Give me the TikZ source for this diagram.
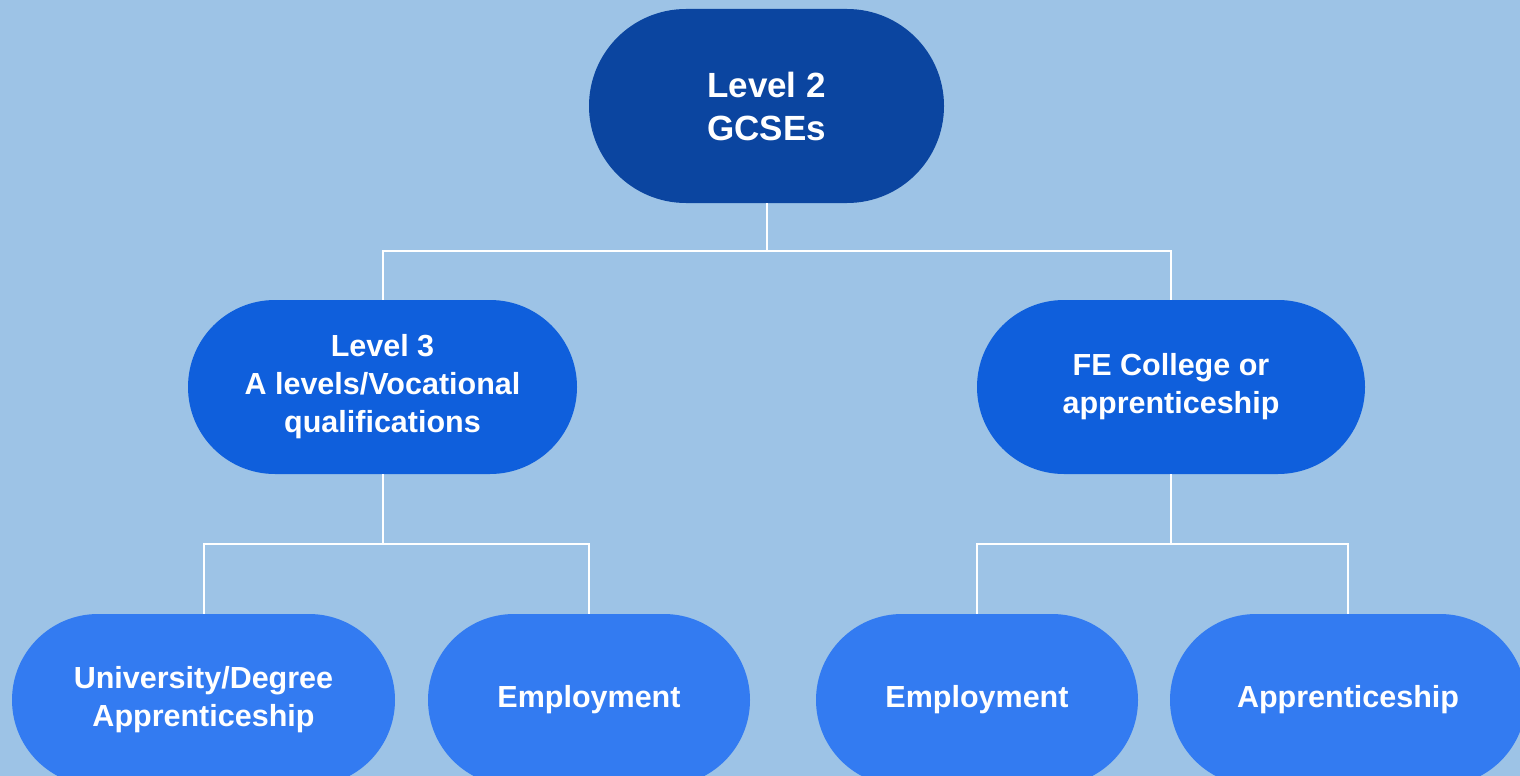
\documentclass[tikz,border=0pt]{standalone}
\usepackage{fontspec}
\setmainfont{Liberation Sans}
\begin{document}
\begin{tikzpicture}[x=1pt,y=-1pt,
  pill/.style={rectangle, text=white, align=center, inner sep=0pt,
    font=\bfseries\fontsize{30.5}{38}\selectfont},
  link/.style={draw=white, line width=2pt}]
\definecolor{bgcol}{HTML}{9DC3E6}
\definecolor{topcol}{HTML}{0B45A0}
\definecolor{midcol}{HTML}{0F5FDC}
\definecolor{lowcol}{HTML}{337BF1}
\useasboundingbox (0,0) rectangle (1520,776);
\clip (0,0) rectangle (1520,776);
\fill[bgcol] (0,0) rectangle (1520,776);
% top level
\node[pill, fill=topcol, minimum width=355, minimum height=194, rounded corners=97,
  font=\bfseries\fontsize{35}{43}\selectfont] (lvltwo) at (766.5,106) {Level 2\\GCSEs};
% second row
\node[pill, fill=midcol, minimum width=389, minimum height=174, rounded corners=87] (lvlthree) at (382.5,387) {Level 3\\A levels/Vocational\\qualifications};
\node[pill, fill=midcol, minimum width=388, minimum height=174, rounded corners=87] (fecollege) at (1171,387) {FE College or\\apprenticeship};
% bottom row
\node[pill, fill=lowcol, minimum width=383, minimum height=172, rounded corners=86] (uni) at (203.5,700) {University/Degree\\Apprenticeship};
\node[pill, fill=lowcol, minimum width=322, minimum height=172, rounded corners=86] (empleft) at (589,700) {Employment};
\node[pill, fill=lowcol, minimum width=322, minimum height=172, rounded corners=86] (empright) at (977,700) {Employment};
\node[pill, fill=lowcol, minimum width=356, minimum height=172, rounded corners=86] (appr) at (1348,700) {Apprenticeship};
% connectors
\coordinate (jtop) at (766.5,251);
\coordinate (jleft) at (382.5,544);
\coordinate (jright) at (1171,544);
\draw[link] (lvltwo.south) -- (jtop) -| (lvlthree.north);
\draw[link] (jtop) -| (fecollege.north);
\draw[link] (lvlthree.south) -- (jleft) -| (uni.north);
\draw[link] (jleft) -| (empleft.north);
\draw[link] (fecollege.south) -- (jright) -| (empright.north);
\draw[link] (jright) -| (appr.north);
\end{tikzpicture}
\end{document}
